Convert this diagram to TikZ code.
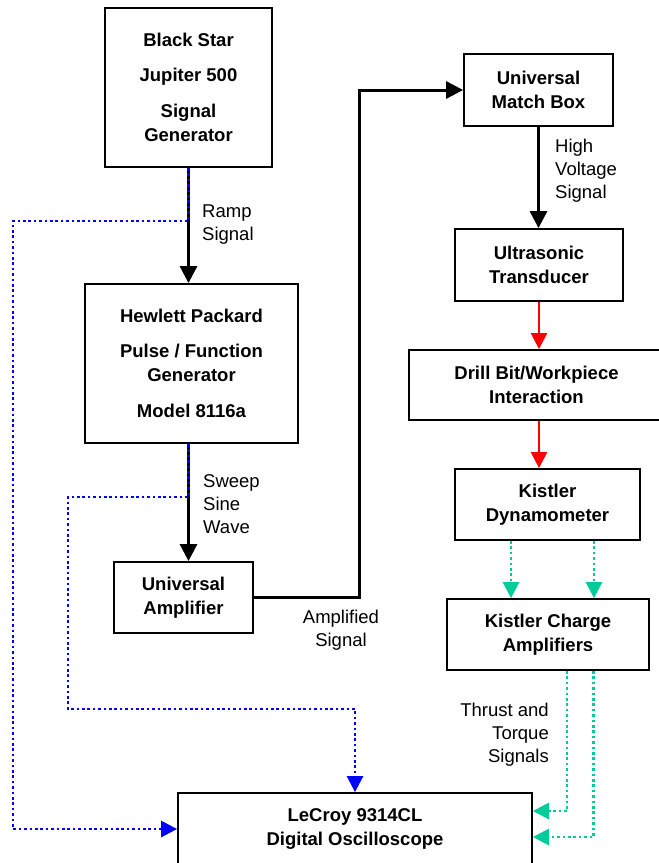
\documentclass[tikz,border=0pt]{standalone}
\usepackage{fontspec}
\setmainfont{Liberation Sans}
\usetikzlibrary{positioning, calc, shapes, arrows.meta}
\definecolor{sigblue}{RGB}{0,0,255}
\definecolor{siggreen}{RGB}{0,204,153}
\tikzstyle{Box} = [
draw, line width=1.8pt, inner sep=0pt, align=center,
font=\bfseries\fontsize{18.5pt}{24pt}\selectfont]
\tikzstyle{Label} = [inner sep=0pt, font=\fontsize{18.5pt}{23pt}\selectfont]
\tikzstyle{Arrow} = [
line width=3pt,
-{Triangle[length=17pt,width=17pt]}]
\tikzstyle{Red} = [
red, line width=2.4pt,
-{Triangle[length=16pt,width=16pt]}]
\tikzstyle{Blue} = [
sigblue, line width=2.6pt, dash pattern=on 2.6pt off 2.8pt,
-{Triangle[length=16pt,width=16pt]}]
\tikzstyle{Green} = [
siggreen, line width=2.6pt, dash pattern=on 2.6pt off 2.8pt,
-{Triangle[length=16pt,width=16pt]}]

\begin{document}
\begin{tikzpicture}[x=1pt, y=-1pt]
    \useasboundingbox[fill=white] (0,0) rectangle (659,863);
    % left column
    \node [Box, minimum width=167, minimum height=159] (1) at (188.5,87.5)
        {Black Star\\[11pt]Jupiter 500\\[12pt]Signal\\Generator};
    \node [Box, minimum width=213, minimum height=159] (2) at (191.5,363.5)
        {Hewlett Packard\\[11pt]Pulse / Function\\Generator\\[12pt]Model 8116a};
    \node [Box, minimum width=139, minimum height=71] (3) at (183.5,597.5)
        {Universal\\Amplifier};
    \node [Box, minimum width=354, minimum height=72] (4) at (355,829)
        {LeCroy 9314CL\\Digital Oscilloscope};
    % right column
    \node [Box, minimum width=149, minimum height=72] (5) at (538.5,90)
        {Universal\\Match Box};
    \node [Box, minimum width=168, minimum height=72] (6) at (539,265)
        {Ultrasonic\\Transducer};
    \node [Box, minimum width=255, minimum height=70] (7) at (536.5,385)
        {Drill Bit/Workpiece\\Interaction};
    \node [Box, minimum width=185, minimum height=71] (8) at (547.5,504.5)
        {Kistler\\Dynamometer};
    \node [Box, minimum width=202, minimum height=71] (9) at (548,634.5)
        {Kistler Charge\\Amplifiers};
    % labels
    \node [Label, anchor=west, align=left] (ramp) at (202,224.5) {Ramp\\Signal};
    \node [Label, anchor=west, align=left] (sweep) at (203,504.5) {Sweep\\Sine\\Wave};
    \node [Label, align=center] (ampl) at (341,630.5) {Amplified\\Signal};
    \node [Label, anchor=west, align=left] (hv) at (555,171) {High\\Voltage\\Signal};
    \node [Label, anchor=east, align=right] (tt) at (549,735) {Thrust and\\Torque\\Signals};
    % bends
    \coordinate (b1) at (13,221);
    \coordinate (b2) at (68,497);
    \coordinate (b3) at (68,709);
    \coordinate (c1) at (359,90);
    % black
    \draw[Arrow] (1.south) -- (1.south |- 2.north);
    \draw[Arrow] (2.south -| 1.south) -- (1.south |- 3.north);
    \draw[Arrow] (3.east) -| (c1) -- (5.west);
    \draw[Arrow] (5.south) -- (5.south |- 6.north);
    % red
    \draw[Red] (6.south) -- (6.south |- 7.north);
    \draw[Red] (6.south |- 7.south) -- (6.south |- 8.north);
    % blue
    \draw[Blue] (1.south) |- (b1) |- (4.west);
    \draw[Blue] (2.south -| 1.south) |- (b2) -- (b3) -| (4.north);
    % green
    \draw[Green] ($(8.south)+(-36.5,0)$) -- ($(9.north)+(-37,0)$);
    \draw[Green] ($(8.south)+(46.5,0)$) -- ($(9.north)+(46,0)$);
    \draw[Green] ($(9.south)+(19,0)$) |- ($(4.east)+(0,-18)$);
    \draw[Green] ($(9.south)+(45.5,0)$) |- ($(4.east)+(0,8)$);
\end{tikzpicture}
\end{document}
